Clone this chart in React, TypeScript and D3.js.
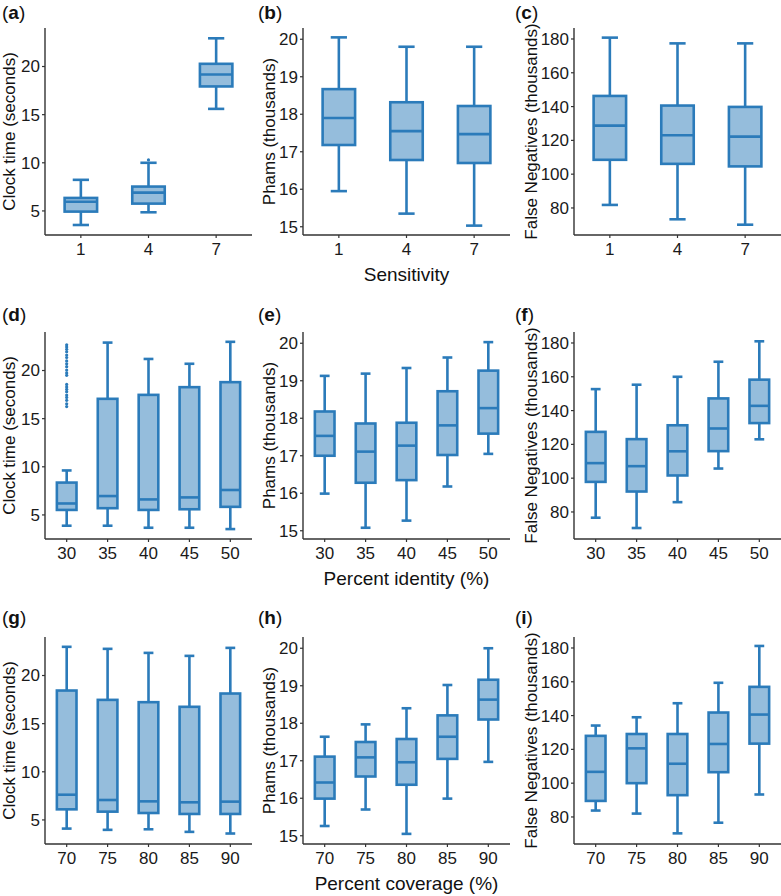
import React from "react";
import * as d3 from "d3";

// ---------- data ----------
// box stats: [lower whisker, q1, median, q3, upper whisker]
const sensitivityCats = ["1", "4", "7"];
const identityCats = ["30", "35", "40", "45", "50"];
const coverageCats = ["70", "75", "80", "85", "90"];

const clockBySensitivity = [
  [3.54, 4.93, 5.95, 6.35, 8.23],
  [4.86, 5.76, 6.9, 7.53, 10.0],
  [15.6, 17.93, 19.17, 20.28, 22.93],
];
const clockSensitivityOutliers = [[], [10.3], []];
const phamsBySensitivity = [
  [15.95, 17.18, 17.9, 18.67, 20.05],
  [15.35, 16.78, 17.55, 18.32, 19.8],
  [15.03, 16.7, 17.47, 18.22, 19.8],
];
const fnBySensitivity = [
  [81.8, 108.5, 128.7, 146.3, 180.8],
  [73.3, 106.1, 123.0, 140.6, 177.4],
  [70.1, 104.6, 122.2, 139.8, 177.4],
];

const clockByIdentity = [
  [3.88, 5.52, 6.19, 8.36, 9.62],
  [3.88, 5.7, 6.96, 17.06, 22.9],
  [3.67, 5.52, 6.61, 17.47, 21.2],
  [3.67, 5.59, 6.82, 18.27, 20.7],
  [3.53, 5.84, 7.59, 18.79, 22.98],
];
const clockIdentityOutliers = [
  [16.25, 16.55, 16.9, 17.2, 17.45, 17.8, 18.05, 18.3, 18.55, 19.5, 19.75, 20.05, 20.4, 20.7, 21.0, 21.35, 21.6, 21.95, 22.2, 22.45, 22.67],
  [], [], [], [],
];
const phamsByIdentity = [
  [15.99, 17.0, 17.53, 18.18, 19.13],
  [15.08, 16.28, 17.11, 17.86, 19.19],
  [15.27, 16.35, 17.27, 17.88, 19.34],
  [16.18, 17.02, 17.81, 18.72, 19.62],
  [17.05, 17.59, 18.27, 19.27, 20.03],
];
const fnByIdentity = [
  [76.6, 97.8, 108.9, 127.4, 152.7],
  [70.5, 92.1, 107.1, 123.1, 155.3],
  [85.8, 101.6, 115.9, 131.3, 160.0],
  [105.7, 116.0, 129.4, 147.2, 168.9],
  [123.0, 132.6, 142.8, 158.3, 181.0],
];

const clockByCoverage = [
  [4.1, 6.1, 7.62, 18.44, 22.98],
  [3.97, 5.86, 7.07, 17.47, 22.77],
  [4.03, 5.72, 6.93, 17.23, 22.35],
  [3.76, 5.62, 6.83, 16.75, 22.04],
  [3.59, 5.62, 6.9, 18.13, 22.87],
];
const phamsByCoverage = [
  [15.26, 15.99, 16.42, 17.11, 17.64],
  [15.7, 16.58, 17.09, 17.5, 17.97],
  [15.05, 16.36, 16.96, 17.58, 18.4],
  [15.99, 17.05, 17.64, 18.21, 19.02],
  [16.97, 18.1, 18.63, 19.16, 20.0],
];
const fnByCoverage = [
  [83.8, 89.5, 106.7, 128.0, 134.1],
  [82.0, 100.0, 120.6, 129.1, 139.0],
  [70.3, 92.9, 111.5, 129.1, 147.3],
  [76.6, 106.5, 123.2, 141.8, 159.4],
  [93.3, 123.4, 140.6, 157.0, 181.2],
];

const clockTicks = [5, 10, 15, 20];
const phamsTicks = [15, 16, 17, 18, 19, 20];
const fnTicks = [80, 100, 120, 140, 160, 180];
const clockDomain = [2.5, 24.0];
const phamsDomain = [14.78, 20.3];
const fnDomain = [64.0, 186.5];

const yTitles = ["Clock time (seconds)", "Phams (thousands)", "False Negatives (thousands)"];
const xTitles = ["Sensitivity", "Percent identity (%)", "Percent coverage (%)"];
const panelLetters = ["a", "b", "c", "d", "e", "f", "g", "h", "i"];

// ---------- layout ----------
const W = 781;
const H = 896;
const FONT = "'Liberation Sans', Arial, Helvetica, sans-serif";
const STROKE = "#2b7bba";
const FILL = "#95bddc";
const AXIS = "#333333";
const rowTops = [28, 332, 637];
const plotH = 207;
const colLefts = [45, 303, 574];
const plotW = 207;
const labelX = [2, 258, 515];
const labelY = [19, 321, 624];
const yTitleX = [15, 275, 537];

type PanelProps = {
  left: number;
  top: number;
  cats: string[];
  stats: number[][];
  outliers?: number[][];
  domain: number[];
  ticks: number[];
  yTitle: string;
  yTitleX: number;
  letter: string;
  lx: number;
  ly: number;
};

function Panel(p: PanelProps) {
  const x = d3.scalePoint<string>().domain(p.cats).range([p.left, p.left + plotW]).padding(0.53);
  const y = d3.scaleLinear().domain(p.domain).range([p.top + plotH, p.top]);
  const step = x.step();
  const bw = step * 0.48;
  const cw = bw * 0.5;
  const bottom = p.top + plotH;
  const midY = p.top + plotH / 2;
  return (
    <g>
      <text x={p.lx} y={p.ly} fontSize={19} fontFamily={FONT} fill="#111">
        <tspan>(</tspan>
        <tspan fontWeight="bold">{p.letter}</tspan>
        <tspan>)</tspan>
      </text>
      <text
        transform={`translate(${p.yTitleX},${midY}) rotate(-90)`}
        textAnchor="middle"
        fontSize={17}
        fontFamily={FONT}
        fill="#111"
      >
        {p.yTitle}
      </text>
      {p.stats.map((s, i) => {
        const cx = x(p.cats[i]) as number;
        const [lo, q1, med, q3, hi] = s;
        return (
          <g key={i}>
            <line x1={cx} x2={cx} y1={y(hi)} y2={y(q3)} stroke={STROKE} strokeWidth={2.6} />
            <line x1={cx} x2={cx} y1={y(q1)} y2={y(lo)} stroke={STROKE} strokeWidth={2.6} />
            <line x1={cx - cw / 2} x2={cx + cw / 2} y1={y(hi)} y2={y(hi)} stroke={STROKE} strokeWidth={2.6} />
            <line x1={cx - cw / 2} x2={cx + cw / 2} y1={y(lo)} y2={y(lo)} stroke={STROKE} strokeWidth={2.6} />
            <rect
              x={cx - bw / 2}
              y={y(q3)}
              width={bw}
              height={y(q1) - y(q3)}
              fill={FILL}
              stroke={STROKE}
              strokeWidth={2.6}
            />
            <line x1={cx - bw / 2} x2={cx + bw / 2} y1={y(med)} y2={y(med)} stroke={STROKE} strokeWidth={2.6} />
            {(p.outliers?.[i] || []).map((v, j) => (
              <circle key={j} cx={cx} cy={y(v)} r={1.6} fill={STROKE} />
            ))}
          </g>
        );
      })}
      <line x1={p.left} x2={p.left} y1={p.top} y2={bottom} stroke={AXIS} strokeWidth={1.4} />
      <line x1={p.left} x2={p.left + plotW} y1={bottom} y2={bottom} stroke={AXIS} strokeWidth={1.4} />
      {p.ticks.map((t) => (
        <g key={t}>
          <line x1={p.left - 3} x2={p.left} y1={y(t)} y2={y(t)} stroke={AXIS} strokeWidth={1.2} />
          <text
            x={p.left - 5}
            y={y(t)}
            dy="0.35em"
            textAnchor="end"
            fontSize={17}
            fontFamily={FONT}
            fill="#1a1a1a"
          >
            {t}
          </text>
        </g>
      ))}
      {p.cats.map((c) => (
        <g key={c}>
          <line x1={x(c)} x2={x(c)} y1={bottom} y2={bottom + 3} stroke={AXIS} strokeWidth={1.2} />
          <text
            x={x(c)}
            y={bottom + 20}
            textAnchor="middle"
            fontSize={17}
            fontFamily={FONT}
            fill="#1a1a1a"
          >
            {c}
          </text>
        </g>
      ))}
    </g>
  );
}

export default function App() {
  const rows = [
    { cats: sensitivityCats, data: [clockBySensitivity, phamsBySensitivity, fnBySensitivity], out: [clockSensitivityOutliers, undefined, undefined] },
    { cats: identityCats, data: [clockByIdentity, phamsByIdentity, fnByIdentity], out: [clockIdentityOutliers, undefined, undefined] },
    { cats: coverageCats, data: [clockByCoverage, phamsByCoverage, fnByCoverage], out: [undefined, undefined, undefined] },
  ];
  const domains = [clockDomain, phamsDomain, fnDomain];
  const tickSets = [clockTicks, phamsTicks, fnTicks];
  return (
    <div style={{ position: "absolute", left: 0, top: 0 }}>
      <svg width={W} height={H} viewBox={`0 0 ${W} ${H}`} style={{ display: "block", background: "#fff" }}>
        {rows.map((r, ri) => (
          <g key={ri}>
            {r.data.map((stats, ci) => (
              <Panel
                key={ci}
                left={colLefts[ci]}
                top={rowTops[ri]}
                cats={r.cats}
                stats={stats}
                outliers={r.out[ci] as number[][] | undefined}
                domain={domains[ci]}
                ticks={tickSets[ci]}
                yTitle={yTitles[ci]}
                yTitleX={yTitleX[ci]}
                letter={panelLetters[ri * 3 + ci]}
                lx={labelX[ci]}
                ly={labelY[ri]}
              />
            ))}
            <text
              x={colLefts[1] + plotW / 2}
              y={rowTops[ri] + plotH + 46}
              textAnchor="middle"
              fontSize={19}
              fontFamily={FONT}
              fill="#111"
            >
              {xTitles[ri]}
            </text>
          </g>
        ))}
      </svg>
    </div>
  );
}
